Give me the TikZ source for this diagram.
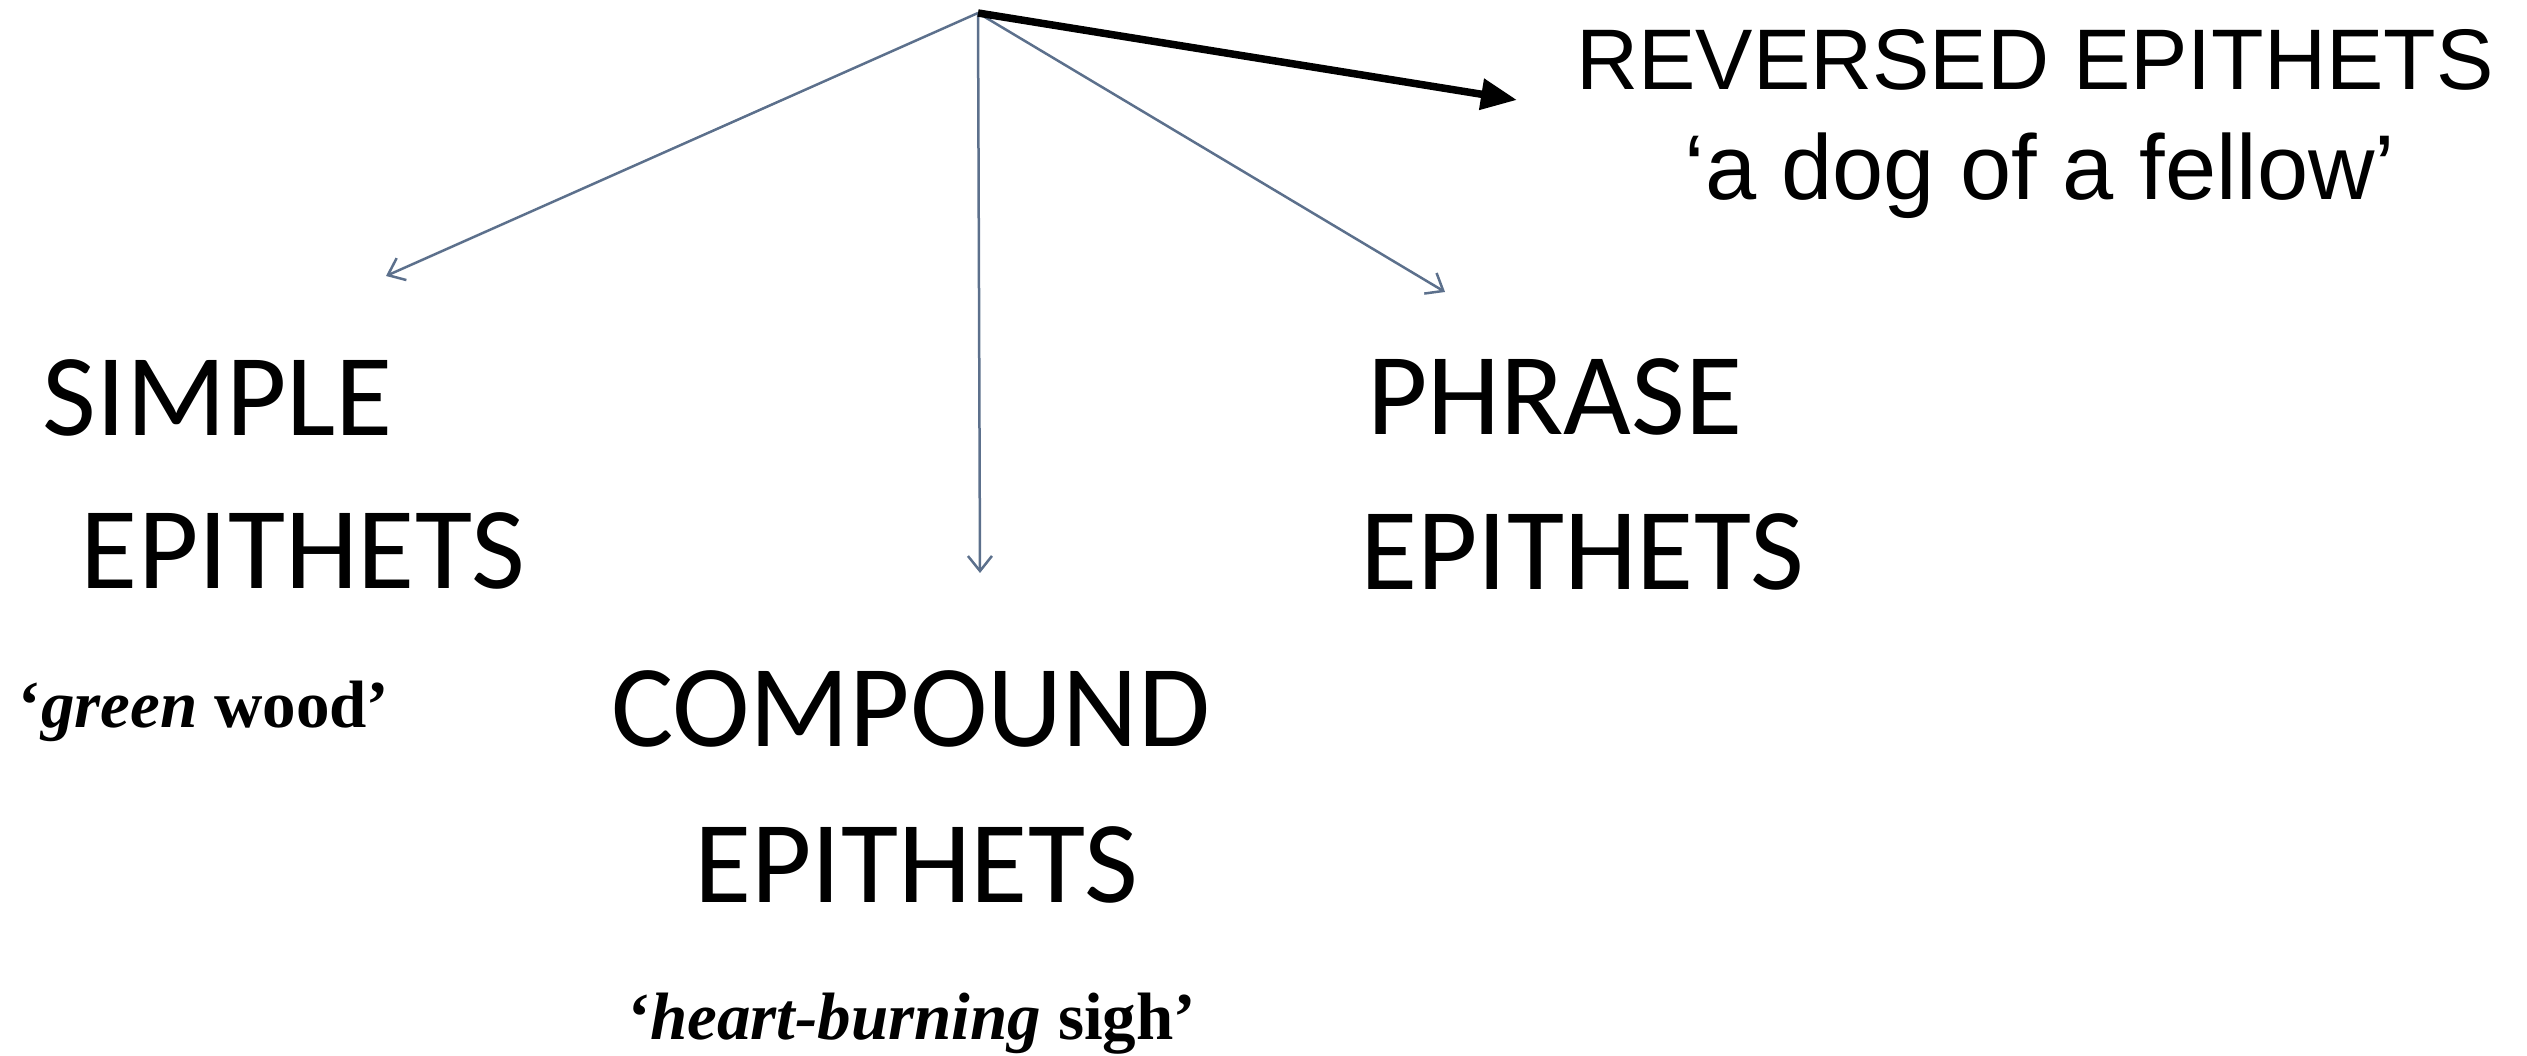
\documentclass[tikz,border=0pt]{standalone}
\usepackage{fontspec}
\setmainfont{Liberation Serif}
\newfontfamily\calibri{Carlito}
\newfontfamily\helv{Liberation Sans}
\usetikzlibrary{positioning}
\usetikzlibrary {arrows.meta}
\definecolor{slate}{RGB}{92,112,140}
\tikzset{epithet/.style={inner sep=0pt,anchor=base west,
font=\calibri\fontsize{11.7pt}{14pt}\selectfont}}
\tikzset{example/.style={inner sep=0pt,anchor=base west,
font=\bfseries\fontsize{6.7pt}{8pt}\selectfont}}
\tikzset{reversed/.style={inner sep=0pt,anchor=base,
font=\helv\fontsize{8.6pt}{10pt}\selectfont}}
\tikzset{branch/.style={line width=0.25pt,draw=slate,
-{Straight Barb[length=1.5pt,width=2.4pt]}}}

\begin{document}
\begin{tikzpicture}[x=0.1pt,y=-0.1pt]
        \useasboundingbox (0,0) rectangle (2527,1056);

        \coordinate (root) at (978,13);

        \node[epithet] (simpleA) at (41,436) {SIMPLE};
        \node[epithet] (simpleB) at (79,589) {EPITHETS};
        \node[example] (simpleEx) at (17,728) {‘\textit{green} wood’};

        \node[epithet] (compoundA) at (609,747) {COMPOUND};
        \node[epithet] (compoundB) at (692,903) {EPITHETS};
        \node[example] (compoundEx) at (626,1040) {‘\textit{heart-burning} sigh’};

        \node[epithet] (phraseA) at (1365,435) {PHRASE};
        \node[epithet] (phraseB) at (1358,590) {EPITHETS};

        \node[reversed] (reversedA) at (2035,90) {REVERSED EPITHETS};
        \node[reversed, font=\helv\fontsize{9.2pt}{11pt}\selectfont] (reversedEx) at (2040,200) {‘a dog of a fellow’};

        \coordinate (simpleTip) at (386,276);
        \coordinate (compoundTip) at (980,573);
        \coordinate (phraseTip) at (1445,292);
        \coordinate (reversedTip) at (1517,100);

        \draw [branch] (root) -- (simpleTip);
        \draw [branch] (root) -- (compoundTip);
        \draw [branch] (root) -- (phraseTip);
        \draw [line width=0.75pt,-{Triangle[length=3.6pt,width=3pt]}] (root) -- (reversedTip);

    \end{tikzpicture}
\end{document}
